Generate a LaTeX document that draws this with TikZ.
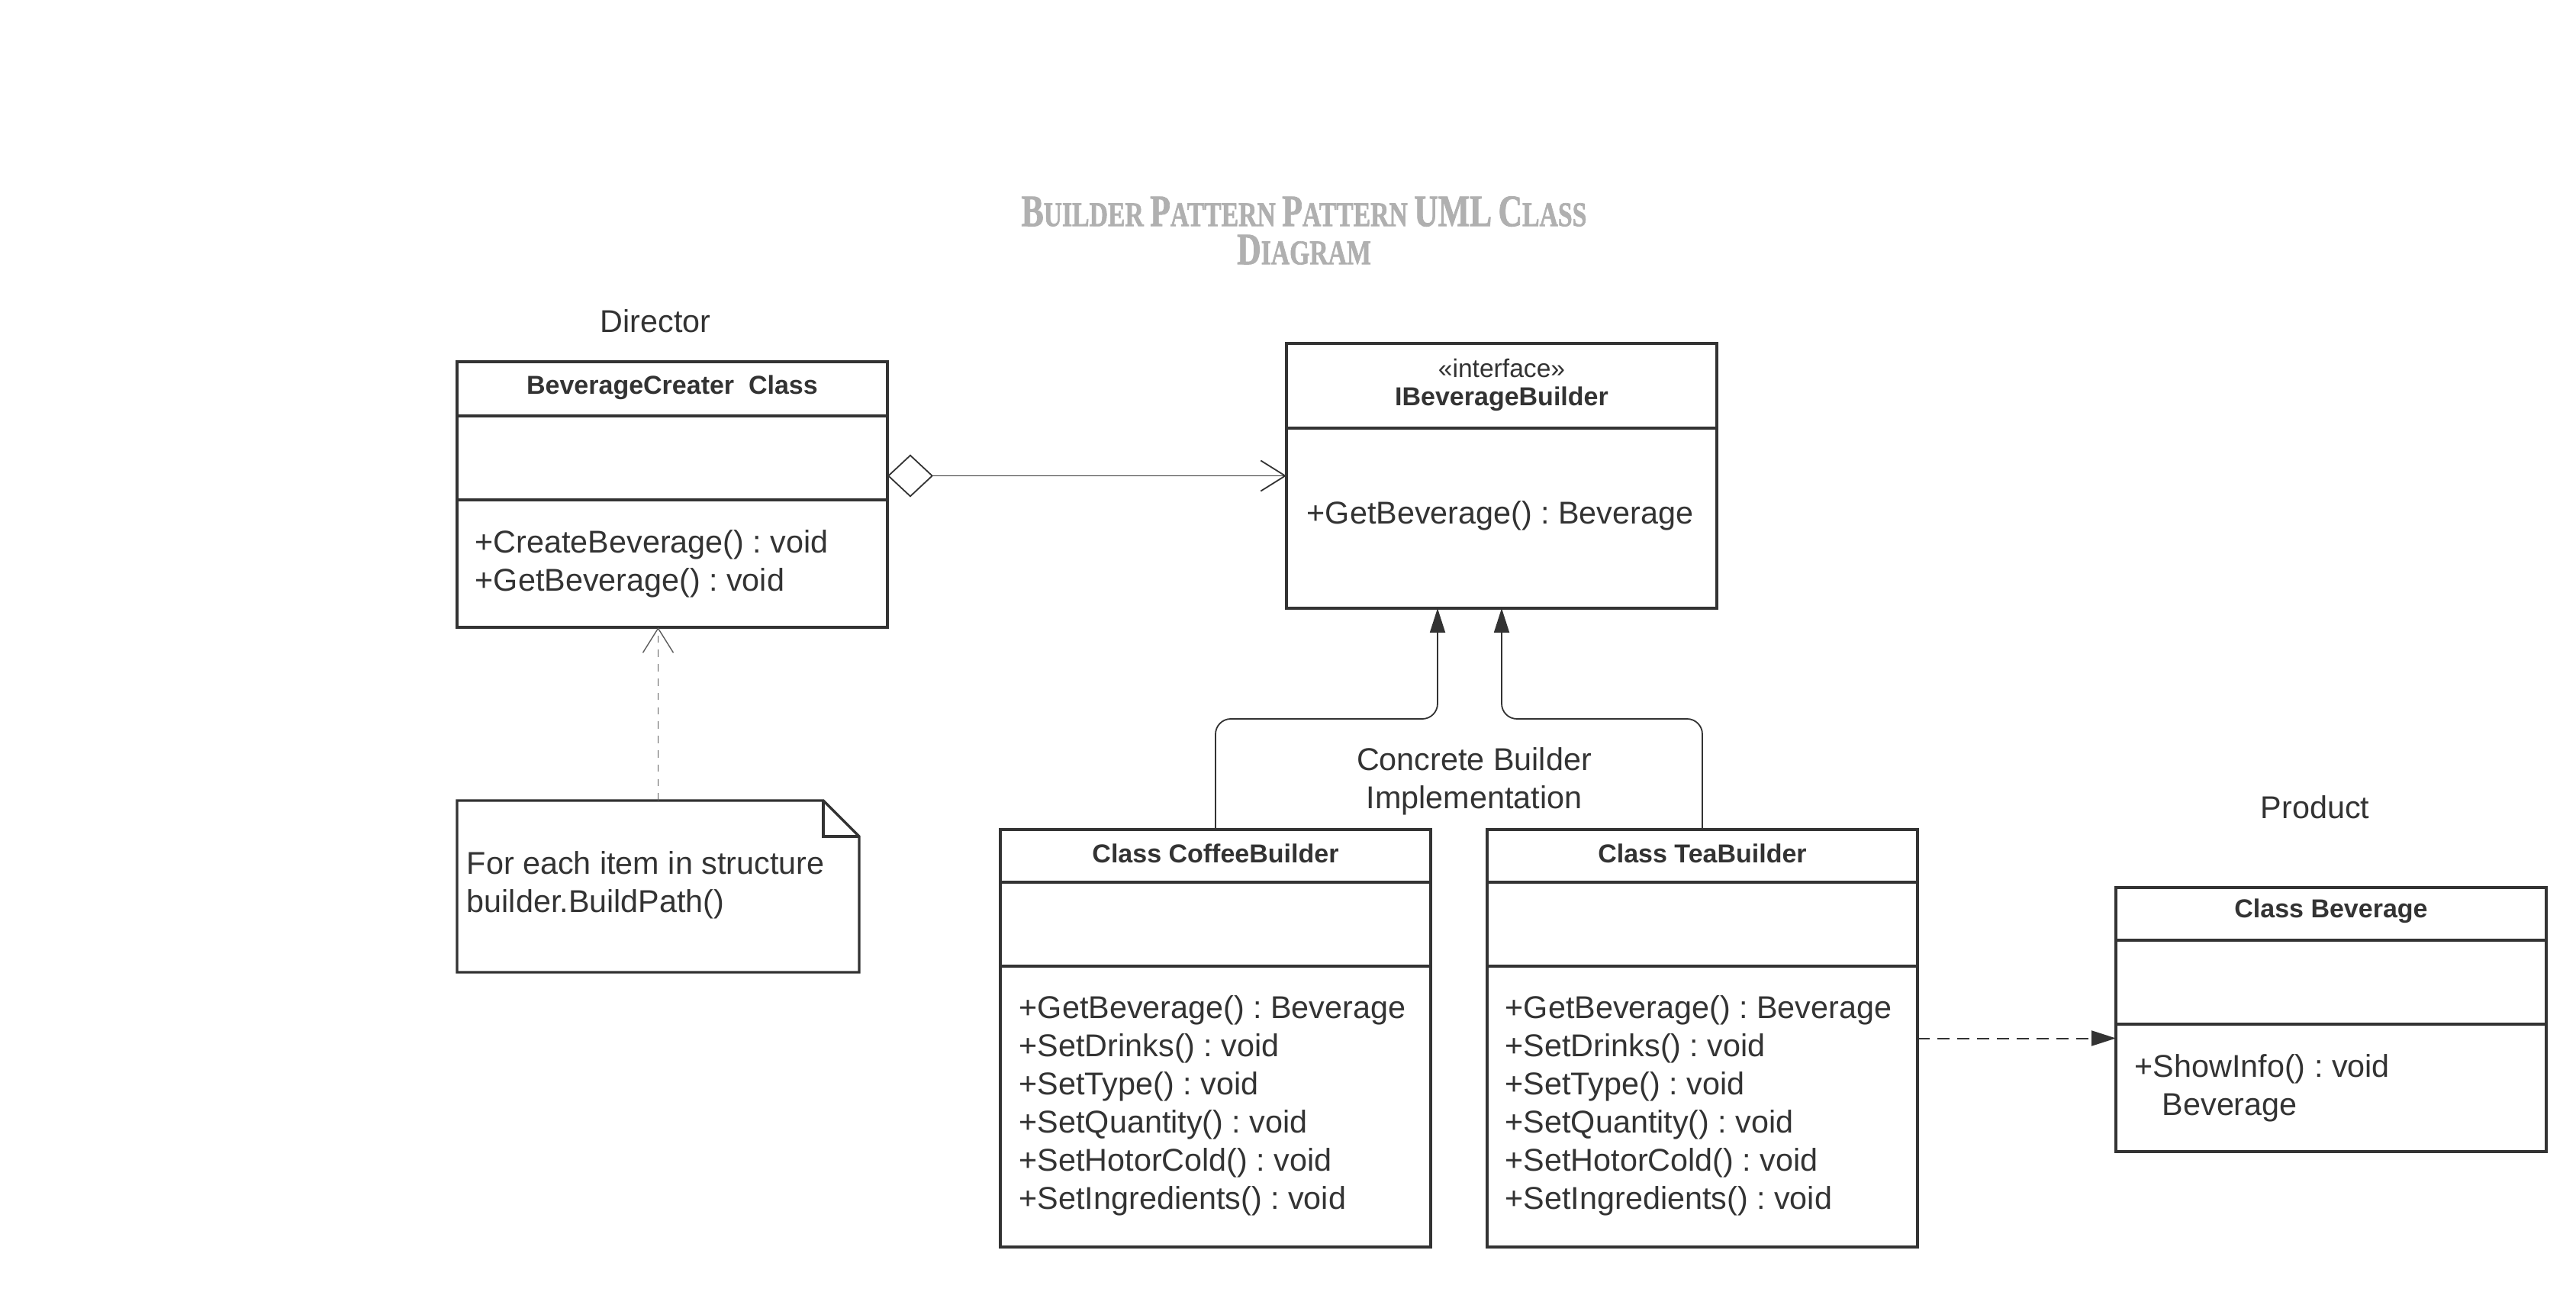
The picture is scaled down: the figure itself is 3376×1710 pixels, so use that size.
\documentclass[tikz,border=0pt]{standalone}
\usepackage{fontspec}
\usepackage{graphicx}
\setmainfont{Liberation Sans}
\newfontfamily\titlefont{Liberation Serif}[BoldFeatures={FakeBold=1.6}]
\usetikzlibrary{arrows.meta}
\definecolor{ink}{HTML}{333333}
\definecolor{titlegray}{HTML}{B0B0B0}
\newcommand\titlecap[1]{{\fontsize{14pt}{15pt}\selectfont #1}}
\tikzset{
  umlbox/.style={draw=ink, line width=0.85pt, fill=white, inner sep=0pt, outer sep=0pt, anchor=north west},
  divider/.style={draw=ink, line width=0.85pt},
  hdr/.style={font=\fontsize{8.5pt}{10pt}\selectfont\bfseries, text=ink, inner sep=0pt},
  stereo/.style={font=\fontsize{8.4pt}{10pt}\selectfont, text=ink, inner sep=0pt},
  mtxt/.style={font=\fontsize{10.33pt}{12.5pt}\selectfont, text=ink, anchor=west, align=left, inner sep=0pt},
  lbl/.style={font=\fontsize{10.33pt}{12.5pt}\selectfont, text=ink, align=center, inner sep=0pt},
  conn/.style={draw=ink, line width=0.45pt},
  dconn/.style={draw=ink, line width=0.5pt, dash pattern=on 4pt off 2.5pt},
  nconn/.style={draw=ink!80, line width=0.35pt, dash pattern=on 2.4pt off 2.3pt},
  openhead/.style={-{Straight Barb[length=8pt,width=10pt]}},
  filledhead/.style={-{Triangle[length=8pt,width=5pt]}}
}
\begin{document}
\frenchspacing
\begin{tikzpicture}[x=0.25pt,y=-0.25pt]
\path[use as bounding box, fill=white] (0,0) rectangle (3376,1710);

% title
\node[text=titlegray, align=center, inner sep=0pt,
      font=\titlefont\bfseries\fontsize{10.8pt}{12.5pt}\selectfont] (title) at (1709,302)
  {\scalebox{0.78}[1.05]{\titlecap{B}UILDER \titlecap{P}ATTERN \titlecap{P}ATTERN \titlecap{UML} \titlecap{C}LASS}\\
   \scalebox{0.78}[1.05]{\titlecap{D}IAGRAM}};

% labels
\node[lbl] (director) at (859,421) {Director};
\node[lbl] (product) at (3034,1058) {Product};
\node[lbl] (concrete) at (1932,1024) {Concrete Builder\\Implementation};

% BeverageCreater
\node[umlbox, minimum width=141pt, minimum height=87pt] (bc) at (599,474) {};
\draw[divider] (599,545) -- (1163,545);
\draw[divider] (599,655) -- (1163,655);
\node[hdr] (bct) at (881,508) {BeverageCreater\ \ Class};
\node[mtxt] (bcm) at (622,739) {+CreateBeverage() : void\\+GetBeverage() : void};

% IBeverageBuilder
\node[umlbox, minimum width=141pt, minimum height=86.75pt] (ib) at (1686,450) {};
\draw[divider] (1686,561) -- (2250,561);
\node[stereo] (ibs) at (1968,482) {«interface»};
\node[hdr] (ibt) at (1968,523) {IBeverageBuilder};
\node[mtxt] (ibm) at (1712,676) {+GetBeverage() : Beverage};

% CoffeeBuilder
\node[umlbox, minimum width=141pt, minimum height=136.75pt] (cb) at (1311,1087) {};
\draw[divider] (1311,1156) -- (1875,1156);
\draw[divider] (1311,1266) -- (1875,1266);
\node[hdr] (cbt) at (1593,1118) {Class CoffeeBuilder};
\node[mtxt] (cbm) at (1335,1449) {+GetBeverage() : Beverage\\+SetDrinks() : void\\+SetType() : void\\+SetQuantity() : void\\+SetHotorCold() : void\\+SetIngredients() : void};

% TeaBuilder
\node[umlbox, minimum width=141pt, minimum height=136.75pt] (tb) at (1949,1087) {};
\draw[divider] (1949,1156) -- (2513,1156);
\draw[divider] (1949,1266) -- (2513,1266);
\node[hdr] (tbt) at (2231,1118) {Class TeaBuilder};
\node[mtxt] (tbm) at (1972,1449) {+GetBeverage() : Beverage\\+SetDrinks() : void\\+SetType() : void\\+SetQuantity() : void\\+SetHotorCold() : void\\+SetIngredients() : void};

% Beverage
\node[umlbox, minimum width=141pt, minimum height=86.5pt] (bv) at (2773,1163) {};
\draw[divider] (2773,1232) -- (3337,1232);
\draw[divider] (2773,1342) -- (3337,1342);
\node[hdr] (bvt) at (3055,1194) {Class Beverage};
\node[mtxt] (bvm) at (2797,1426) {+ShowInfo() : void\\\hspace*{9pt}Beverage};

% Note
\node[inner sep=0pt, outer sep=0pt, minimum width=131.75pt, minimum height=56.25pt, anchor=north west] (nt) at (599,1049) {};
\draw[draw=ink, line width=0.85pt, fill=white, line join=miter]
  (nt.north west) -- ([xshift=-11.75pt]nt.north east) -- ([yshift=-11.75pt]nt.north east)
  -- (nt.south east) -- (nt.south west) -- cycle;
\draw[draw=ink, line width=0.85pt]
  ([xshift=-11.75pt]nt.north east) -- ([xshift=-11.75pt,yshift=-11.75pt]nt.north east) -- ([yshift=-11.75pt]nt.north east);
\node[mtxt] (ntt) at (611,1160) {For each item in structure\\builder.BuildPath()};

% connectors
\draw[conn, {Diamond[open,length=15pt,width=14pt]}-{Straight Barb[length=8pt,width=10pt]}]
  (bc.east |- ib.west) -- (ib.west);
\draw[nconn, openhead] (nt.north) -- (nt.north |- bc.south);
\draw[conn, rounded corners=5pt, filledhead] (cb.north) -- ++(0,-145) -| ([xshift=-21pt]ib.south);
\draw[conn, rounded corners=5pt, filledhead] (tb.north) -- ++(0,-145) -| (ib.south);
\draw[dconn, -{Triangle[length=8pt,width=5pt]}] (tb.east) -- (tb.east -| bv.west);
\end{tikzpicture}
\end{document}
